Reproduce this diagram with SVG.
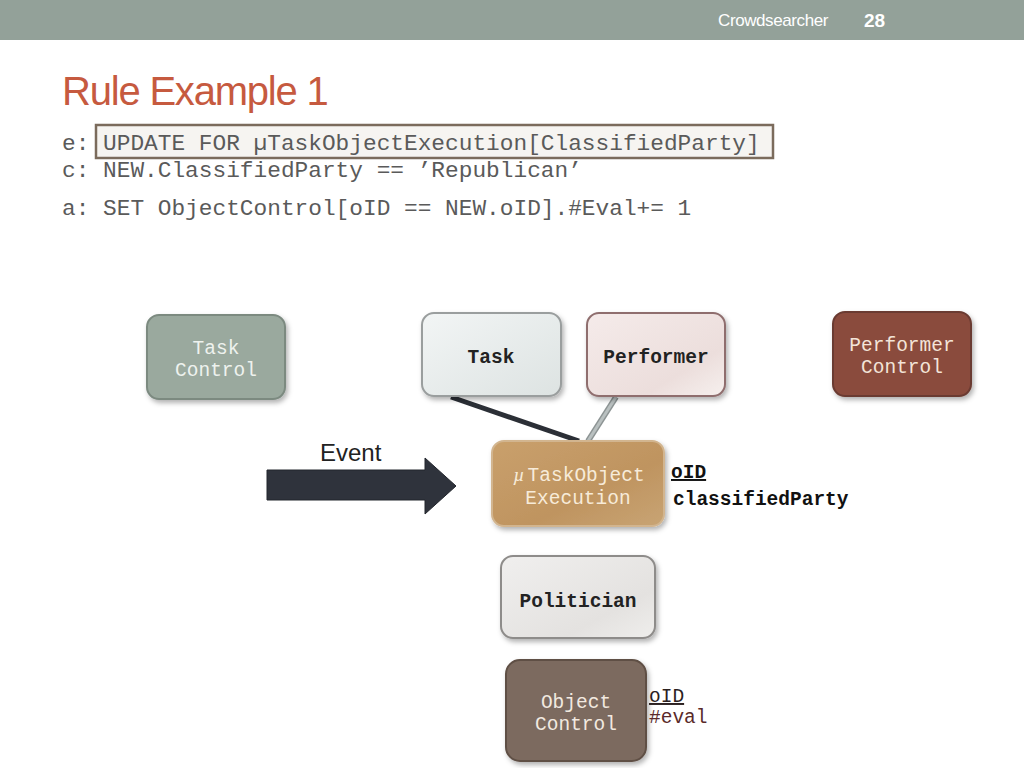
<svg xmlns="http://www.w3.org/2000/svg" width="1024" height="768" viewBox="0 0 1024 768">
<style>
.hdr{font-family:"Liberation Sans",Arial,sans-serif;fill:#ffffff}
.code{font-family:"Liberation Mono","Courier New",monospace;font-size:22.8px;fill:#5a5a5a}
.nt{font-family:"Liberation Mono","Courier New",monospace;font-size:19.5px;text-anchor:middle}
.ntb{font-family:"Liberation Mono","Courier New",monospace;font-size:19.5px;font-weight:bold;text-anchor:middle;fill:#222222}
.attr{font-family:"Liberation Mono","Courier New",monospace;font-size:19.5px;font-weight:bold;fill:#111111}
.attr2{font-family:"Liberation Mono","Courier New",monospace;font-size:19.5px}
</style>
<defs>
<filter id="sh" x="-10%" y="-10%" width="130%" height="130%">
<feDropShadow dx="2" dy="3" stdDeviation="2.5" flood-color="#000" flood-opacity="0.3"/>
</filter>
<linearGradient id="gTask" x1="0" y1="0" x2="1" y2="1"><stop offset="0" stop-color="#f2f5f5"/><stop offset="1" stop-color="#dde3e2"/></linearGradient>
<linearGradient id="gPerf" x1="0" y1="0" x2="1" y2="1"><stop offset="0" stop-color="#f5ebea"/><stop offset="0.7" stop-color="#ecdedc"/><stop offset="1" stop-color="#f6f0ee"/></linearGradient>
<linearGradient id="gExec" x1="0" y1="0" x2="1" y2="1"><stop offset="0" stop-color="#c9a06c"/><stop offset="0.6" stop-color="#bf9460"/><stop offset="1" stop-color="#c8a474"/></linearGradient>
<linearGradient id="gPol" x1="0" y1="0" x2="1" y2="1"><stop offset="0" stop-color="#f0efee"/><stop offset="0.7" stop-color="#e4e2e0"/><stop offset="1" stop-color="#efeeec"/></linearGradient>
</defs>
<rect x="0" y="0" width="1024" height="768" fill="#ffffff"/>
<rect x="0" y="0" width="1024" height="40" fill="#93a199"/>
<text class="hdr" x="718" y="26" font-size="17" letter-spacing="-0.4">Crowdsearcher</text>
<text class="hdr" x="864" y="27" font-size="19" font-weight="bold">28</text>
<text x="62" y="105" font-family="'Liberation Sans',Arial,sans-serif" font-size="40" fill="#c65a3f" letter-spacing="-1.2">Rule Example 1</text>
<rect x="96" y="125" width="677" height="33" fill="#f6f4f1" stroke="#7b6b5c" stroke-width="2.5"/>
<text class="code" x="62" y="150">e: UPDATE FOR µTaskObjectExecution[ClassifiedParty]</text>
<text class="code" x="62" y="177">c: NEW.ClassifiedParty == ’Republican’</text>
<text class="code" x="62" y="215">a: SET ObjectControl[oID == NEW.oID].#Eval+= 1</text>
<g id="connectors">
<line x1="451" y1="397" x2="579" y2="441" stroke="#2b2f36" stroke-width="5"/>
<line x1="616" y1="397" x2="588" y2="441" stroke="#8d9494" stroke-width="6"/>
<line x1="616" y1="397" x2="588" y2="441" stroke="#b9c0c0" stroke-width="3"/>
</g>
<g id="event">
<polygon points="267,470 425,470 425,458 456,486 425,514 425,500 267,500" fill="#2f333c" stroke="#23262d" stroke-width="1"/>
<text x="320" y="461" font-family="'Liberation Sans',Arial,sans-serif" font-size="24" fill="#222222">Event</text>
</g>
<g id="taskcontrol">
<rect x="147" y="315" width="138" height="84" rx="12" fill="#9aa99e" stroke="#7c8a80" stroke-width="2" filter="url(#sh)"/>
<text class="nt" x="216" y="354" fill="#eef2ee">Task</text>
<text class="nt" x="216" y="376" fill="#eef2ee">Control</text>
</g>
<g id="task">
<rect x="422" y="313" width="139" height="83" rx="12" fill="url(#gTask)" stroke="#9a9e9e" stroke-width="2" filter="url(#sh)"/>
<text class="ntb" x="491" y="363">Task</text>
</g>
<g id="performer">
<rect x="587" y="313" width="138" height="83" rx="12" fill="url(#gPerf)" stroke="#8f6e6e" stroke-width="2" filter="url(#sh)"/>
<text class="ntb" x="656" y="363">Performer</text>
</g>
<g id="performercontrol">
<rect x="833" y="312" width="138" height="84" rx="12" fill="#8a4b3d" stroke="#6b3a30" stroke-width="2" filter="url(#sh)"/>
<text class="nt" x="902" y="351" fill="#f3e4d8">Performer</text>
<text class="nt" x="902" y="373" fill="#f3e4d8">Control</text>
</g>
<g id="exec">
<rect x="492" y="441" width="172" height="85" rx="12" fill="url(#gExec)" stroke="#d2b58f" stroke-width="2" filter="url(#sh)"/>
<text class="nt" x="579" y="481" fill="#f7ebd9"><tspan font-family="'Liberation Serif',serif" font-style="italic">µ</tspan><tspan dx="3">TaskObject</tspan></text>
<text class="nt" x="578" y="504" fill="#f7ebd9">Execution</text>
<text class="attr" x="671" y="478" text-decoration="underline">oID</text>
<text class="attr" x="673" y="505">classifiedParty</text>
</g>
<g id="politician">
<rect x="501" y="556" width="154" height="82" rx="12" fill="url(#gPol)" stroke="#8e8c8a" stroke-width="2" filter="url(#sh)"/>
<text class="ntb" x="578" y="607">Politician</text>
</g>
<g id="objectcontrol">
<rect x="506" y="660" width="140" height="101" rx="14" fill="#7c6a5e" stroke="#5f4f45" stroke-width="2" filter="url(#sh)"/>
<text class="nt" x="576" y="708" fill="#f2e9e0">Object</text>
<text class="nt" x="576" y="730" fill="#f2e9e0">Control</text>
<text class="attr2" x="649" y="702" fill="#2b2020" text-decoration="underline">oID</text>
<text class="attr2" x="649" y="723" fill="#5a2a2a">#eval</text>
</g>
</svg>
